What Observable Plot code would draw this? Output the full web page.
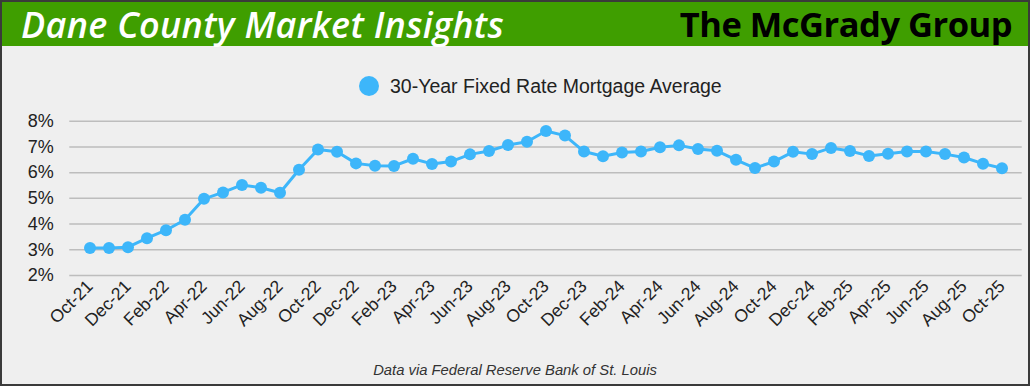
<!DOCTYPE html>
<html>
<head>
<meta charset="utf-8">
<script src="https://cdn.jsdelivr.net/npm/d3@7"></script>
<script src="https://cdn.jsdelivr.net/npm/@observablehq/plot@0.6"></script>
<style>
  html, body { margin: 0; padding: 0; background: #efefef; }
  #wrap { position: relative; width: 1030px; height: 386px; background: #efefef; overflow: hidden; font-family: "Liberation Sans", Arial, sans-serif; }
  #header { position: absolute; left: 0; top: 0; width: 1030px; height: 46px; background: #3f9e00; }
  #title { position: absolute; left: 21px; top: 0; line-height: normal; font-family: "Open Sans", sans-serif; font-style: italic; font-weight: 600; font-size: 36px; color: #fff; letter-spacing: 0.3px; white-space: nowrap; }
  #brand { position: absolute; right: 18px; top: 0; line-height: normal; font-family: "Open Sans", sans-serif; font-weight: 700; font-size: 34.5px; color: #000; letter-spacing: -0.5px; white-space: nowrap; }
  #legend { position: absolute; left: 359px; top: 72px; height: 28px; display: flex; align-items: center; font-size: 19.5px; color: #222; white-space: nowrap; }
  #legend .dot { width: 20px; height: 20px; border-radius: 50%; background: #3db6fa; margin-right: 11px; }
  #chart { position: absolute; left: 0; top: 100px; }
  #chart svg { overflow: visible; }
  #caption { position: absolute; left: 0; width: 1030px; top: 362px; text-align: center; font-style: italic; font-size: 14.8px; color: #333; }
  #frame { position: absolute; left: 0; top: 0; width: 1030px; height: 386px; box-sizing: border-box; border: 2px solid #3a3a3a; pointer-events: none; }
</style>
</head>
<body>
<div id="wrap">
  <div id="header"></div>
  <div id="title">Dane County Market Insights</div>
  <div id="brand">The McGrady Group</div>
  <div id="legend"><div class="dot"></div><span>30-Year Fixed Rate Mortgage Average</span></div>
  <div id="chart"></div>
  <div id="caption">Data via Federal Reserve Bank of St. Louis</div>
  <div id="frame"></div>
</div>
<script>
const months = [
  "Oct-21","Nov-21","Dec-21",
  "Jan-22","Feb-22","Mar-22","Apr-22","May-22","Jun-22","Jul-22","Aug-22","Sep-22","Oct-22","Nov-22","Dec-22",
  "Jan-23","Feb-23","Mar-23","Apr-23","May-23","Jun-23","Jul-23","Aug-23","Sep-23","Oct-23","Nov-23","Dec-23",
  "Jan-24","Feb-24","Mar-24","Apr-24","May-24","Jun-24","Jul-24","Aug-24","Sep-24","Oct-24","Nov-24","Dec-24",
  "Jan-25","Feb-25","Mar-25","Apr-25","May-25","Jun-25","Jul-25","Aug-25","Sep-25","Oct-25"
];
const rates = [
  3.07, 3.07, 3.10,
  3.45, 3.76, 4.17, 4.98, 5.23, 5.52, 5.41, 5.22, 6.11, 6.90, 6.81, 6.36,
  6.27, 6.26, 6.54, 6.34, 6.43, 6.71, 6.84, 7.07, 7.20, 7.62, 7.44, 6.82,
  6.64, 6.78, 6.82, 6.99, 7.06, 6.92, 6.85, 6.50, 6.18, 6.43, 6.81, 6.72,
  6.96, 6.84, 6.65, 6.73, 6.82, 6.82, 6.72, 6.59, 6.35, 6.17
];
const yTicks = [2, 3, 4, 5, 6, 7, 8];
const xTicks = months.filter((d, i) => i % 2 === 0);

const data = months.map((m, i) => ({month: m, rate: rates[i]}));
const blue = "#3db6fa";

const chart = Plot.plot({
  width: 1030,
  height: 250,
  marginLeft: 69.3,
  marginRight: 8.3,
  marginTop: 20.7,
  marginBottom: 75,
  style: {background: "transparent", fontFamily: "'Liberation Sans', Arial, sans-serif", color: "#222", overflow: "visible"},
  x: {type: "band", domain: months, padding: 0, label: null},
  y: {domain: [2, 8], label: null},
  marks: [
    Plot.gridY(yTicks, {stroke: "#bdbdbd", strokeOpacity: 1, strokeWidth: 1.5}),
    Plot.axisY(yTicks, {tickFormat: d => d + "%", tickSize: 0, tickPadding: 16, fontSize: 18, fill: "#222", label: null}),
    Plot.axisX(xTicks, {tickSize: 0, tickPadding: 8, tickRotate: -45, fontSize: 17.5, fill: "#222", label: null}),
    Plot.line(data, {x: "month", y: "rate", stroke: blue, strokeWidth: 3}),
    Plot.dot(data, {x: "month", y: "rate", fill: blue, r: 6})
  ]
});
document.getElementById("chart").appendChild(chart);
</script>
</body>
</html>
